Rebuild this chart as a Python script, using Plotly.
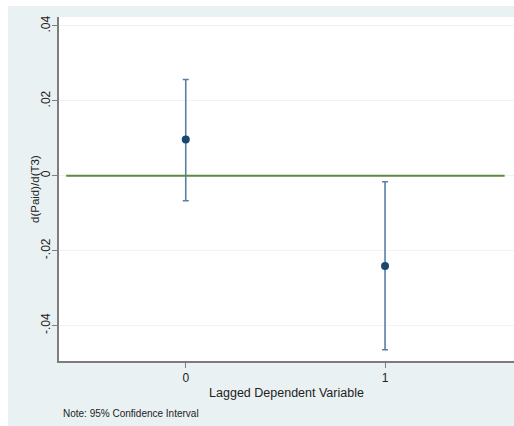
import plotly.graph_objects as go

# Data
lags = [0, 1]
estimates = [0.0097, -0.0241]
ci_upper = [0.0257, -0.0016]
ci_lower = [-0.0067, -0.0465]
y_ticks = [-0.04, -0.02, 0, 0.02, 0.04]
y_tick_labels = ["-.04", "-.02", "0", ".02", ".04"]
x_ticks = [0, 1]
x_tick_labels = ["0", "1"]
ref_line_x = [-0.6, 1.6]
ref_line_y = [0, 0]

BG = "#eaf1f3"
NAVY = "#1a476f"
BAR = "#5a7ea6"
GREEN = "#5d8a3c"
AXIS = "#7d7d7d"
FONT = "Liberation Sans, Arial, sans-serif"

fig = go.Figure()

fig.add_trace(go.Scatter(
    x=ref_line_x, y=ref_line_y, mode="lines",
    line=dict(color=GREEN, width=2), hoverinfo="skip", showlegend=False,
))

fig.add_trace(go.Scatter(
    x=lags, y=estimates, mode="markers",
    marker=dict(color=NAVY, size=8),
    error_y=dict(
        type="data", symmetric=False,
        array=[u - e for u, e in zip(ci_upper, estimates)],
        arrayminus=[e - l for e, l in zip(estimates, ci_lower)],
        color=BAR, thickness=1.6, width=3,
    ),
    showlegend=False,
))

fig.update_layout(
    width=514, height=426,
    margin=dict(l=59, r=0, t=17, b=65, autoexpand=False),
    paper_bgcolor=BG,
    plot_bgcolor="white",
    font=dict(family=FONT, color="#222222", size=12),
    xaxis=dict(
        range=[-0.636, 1.647], automargin=False,
        tickmode="array", tickvals=x_ticks, ticktext=x_tick_labels,
        ticks="outside", ticklen=5, tickcolor=AXIS, tickwidth=1,
        showgrid=False, zeroline=False,
        showline=True, linecolor=AXIS, linewidth=2,
        tickfont=dict(size=12, color="#222222"),
        title=dict(text="Lagged Dependent Variable", font=dict(size=12.5, color="#222222"), standoff=4),
    ),
    yaxis=dict(
        range=[-0.0495, 0.0424], automargin=False,
        tickmode="array", tickvals=y_ticks, ticktext=y_tick_labels,
        tickangle=-90, ticklabelstandoff=-3,
        ticks="outside", ticklen=5, tickcolor=AXIS, tickwidth=1,
        showgrid=True, gridcolor="#eef3f3", gridwidth=1,
        zeroline=False,
        showline=True, linecolor=AXIS, linewidth=2,
        tickfont=dict(size=12, color="#222222"),
    ),
    shapes=[
        dict(type="rect", xref="paper", yref="paper", x0=-0.2, x1=1.05,
             y0=(361 - 0) / 344, y1=(361 - 6) / 344, fillcolor="white", line=dict(width=0), layer="below"),
        dict(type="rect", xref="paper", yref="paper", x0=-59 / 455, x1=(8 - 59) / 455,
             y0=-0.3, y1=1.1, fillcolor="white", line=dict(width=0), layer="below"),
    ],
    annotations=[
        dict(text="d(Paid)/d(T3)", xref="paper", yref="paper",
             x=(35 - 59) / 455, y=0.5, xanchor="center", yanchor="middle", textangle=-90,
             showarrow=False, font=dict(size=11.5, color="#222222")),
        dict(text="Note: 95% Confidence Interval", xref="paper", yref="paper",
             x=(61 - 59) / 455, y=(361 - 413) / 344, xanchor="left", yanchor="middle",
             showarrow=False, font=dict(size=10, color="#222222")),
    ],
)

fig.write_html(
    "out.html",
    config={"displayModeBar": False},
    post_script="document.body.style.margin='0';document.body.style.overflow='hidden';",
)
